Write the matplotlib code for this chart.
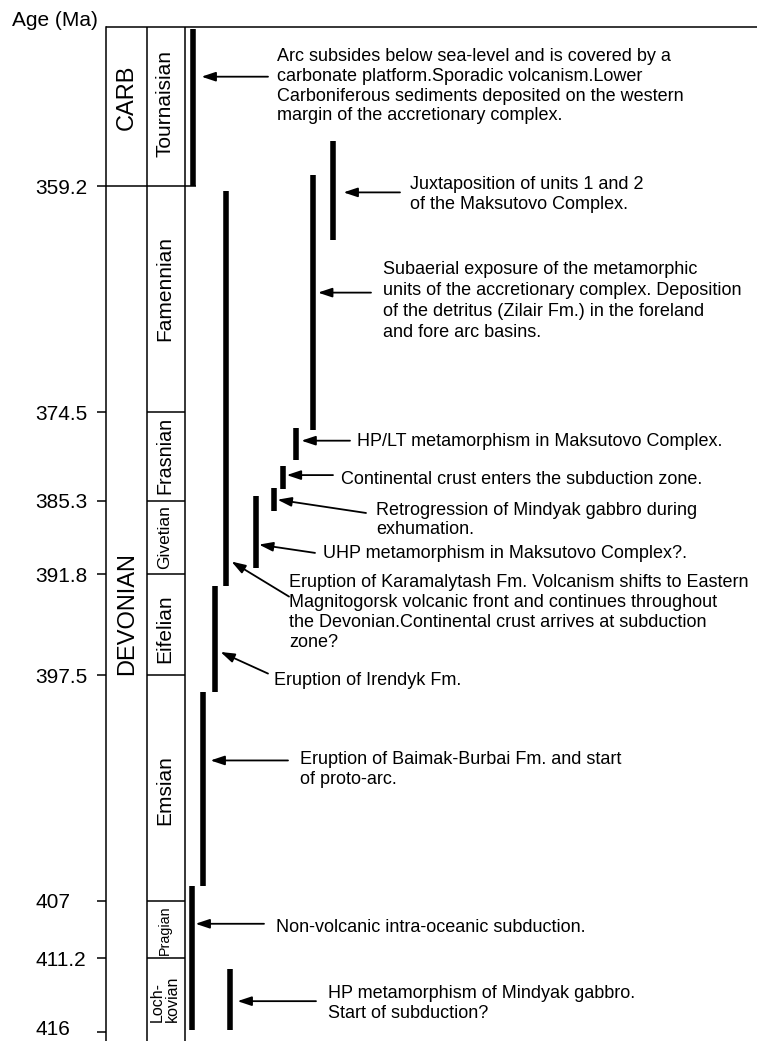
import numpy as np
import matplotlib
matplotlib.use("Agg")
import matplotlib.pyplot as plt
from matplotlib.ticker import NullLocator
from matplotlib.transforms import ScaledTranslation

plt.rcParams['font.family'] = ['Liberation Sans', 'DejaVu Sans']

# ---------------- data ----------------
boundary_ages = [345.3, 359.2, 374.5, 385.3, 391.8, 397.5, 407.0, 411.2, 416.0]
tick_ages = [359.2, 374.5, 385.3, 391.8, 397.5, 407.0, 411.2, 416.0]
tick_labels = ["359.2", "374.5", "385.3", "391.8", "397.5", "407", "411.2", "416"]

periods = ["CARB", "DEVONIAN"]
period_top = [345.3, 359.2]
period_base = [359.2, 416.0]

stages = ["Tournaisian", "Famennian", "Frasnian", "Givetian",
          "Eifelian", "Emsian", "Pragian", "Loch-\nkovian"]
stage_top = [345.3, 359.2, 374.5, 385.3, 391.8, 397.5, 407.0, 411.2]
stage_base = [359.2, 374.5, 385.3, 391.8, 397.5, 407.0, 411.2, 416.0]

event_text = [
    "Arc subsides below sea-level and is covered by a\n"
    "carbonate platform.Sporadic volcanism.Lower\n"
    "Carboniferous sediments deposited on the western\n"
    "margin of the accretionary complex.",
    "Juxtaposition of units 1 and 2\nof the Maksutovo Complex.",
    "Subaerial exposure of the metamorphic\n"
    "units of the accretionary complex. Deposition\n"
    "of the detritus (Zilair Fm.) in the foreland\n"
    "and fore arc basins.",
    "HP/LT metamorphism in Maksutovo Complex.",
    "Continental crust enters the subduction zone.",
    "Retrogression of Mindyak gabbro during\nexhumation.",
    "UHP metamorphism in Maksutovo Complex?.",
    "Eruption of Karamalytash Fm. Volcanism shifts to Eastern\n"
    "Magnitogorsk volcanic front and continues throughout\n"
    "the Devonian.Continental crust arrives at subduction\n"
    "zone?",
    "Eruption of Irendyk Fm.",
    "Eruption of Baimak-Burbai Fm. and start\nof proto-arc.",
    "Non-volcanic intra-oceanic subduction.",
    "HP metamorphism of Mindyak gabbro.\nStart of subduction?",
]
event_top = [345.4, 355.2, 358.2, 376.5, 381.1, 383.8, 384.8, 359.5, 392.5, 398.2, 406.4, 411.9]
event_base = [359.2, 362.8, 376.7, 380.4, 383.9, 386.2, 391.3, 392.5, 398.2, 406.4, 415.9, 415.9]
arrow_age = [349.6, 359.6, 366.4, 378.0, 382.2, 385.2, 389.2, 390.7, 396.2, 401.1, 408.7, 414.0]

# ---------------- layout (pixels) ----------------
W, H = 757, 1041
top_px = 27.5
stage_px = [159, 225.5, 88.5, 73.5, 101, 225.5, 57.5, 74]   # drawn height of each stage
col_x = [106, 147, 185]                                       # column rules
bar_x = [193, 333, 312.5, 296.3, 283.4, 274, 255.5, 226, 215.3, 203.2, 191.8, 230]
head_x = [201.5, 343.5, 318, 301.4, 286.7, 277.5, 259, 231.5, 220.5, 210.5, 195.5, 237.5]
tail_x = [268, 400, 371, 350, 333, 366, 315, 289, 268, 288, 264, 316]
tail_dy = [0, 0, 0, 0, 0, 13.3, 8.3, 35, 21.6, 0, 0, 0]
text_x = [277, 410, 383, 357, 341, 376, 323, 289, 274, 300, 276, 328]
text_y = [55, 182.7, 267.3, 439.3, 477.3, 508.3, 551.7, 581, 678.3, 757.7, 925, 991.7]
text_ls = [1.2, 1.2, 1.32, 1.2, 1.2, 1.2, 1.2, 1.22, 1.2, 1.2, 1.2, 1.2]
stage_dy = [-3.5, -11, -1, 0, 4.5, 2, 0.5, 4]
stage_fs = [15, 15, 14.2, 12.5, 15, 15, 10.3, 11.5]
period_dy = [-9.5, 0]

anchor_px = top_px + np.concatenate([[0.0], np.cumsum(stage_px)])
anchor_age = np.asarray(boundary_ages, float)


def _extrap(v, xs, ys):
    v = np.asarray(v, float)
    out = np.interp(v, xs, ys)
    lo = (ys[1] - ys[0]) / (xs[1] - xs[0])
    hi = (ys[-1] - ys[-2]) / (xs[-1] - xs[-2])
    out = np.where(v < xs[0], ys[0] + (v - xs[0]) * lo, out)
    out = np.where(v > xs[-1], ys[-1] + (v - xs[-1]) * hi, out)
    return out


def age_to_px(a):
    return _extrap(a, anchor_age, anchor_px)


def px_to_age(p):
    return _extrap(p, anchor_px, anchor_age)


fig = plt.figure(figsize=(W / 100, H / 100), dpi=100)
ax = fig.add_axes([0, 0, 1, 1])
ax.set_xlim(0, W)
ax.set_yscale('function', functions=(age_to_px, px_to_age))
age_bottom = float(px_to_age(H))
age_top = float(px_to_age(0))
ax.set_ylim(age_bottom, age_top)

lw_frame = 1.1
PX = 72 / 100  # points per pixel

# axis: left rule with ticks and left-aligned labels
for s in ['top', 'right', 'bottom']:
    ax.spines[s].set_visible(False)
ax.spines['left'].set_position(('data', col_x[0]))
ax.spines['left'].set_bounds(age_bottom, boundary_ages[0])
ax.spines['left'].set_linewidth(lw_frame)
ax.xaxis.set_visible(False)
ax.set_yticks(tick_ages, tick_labels)
ax.yaxis.set_minor_locator(NullLocator())
ax.tick_params(axis='y', direction='out', length=9 * PX, width=lw_frame,
               pad=(col_x[0] - 9 - 35) * PX, labelsize=15)
ylabels = ax.get_yticklabels()
for lbl in ylabels:
    lbl.set_horizontalalignment('left')
# lift the lowest label clear of the bottom edge
ylabels[-1].set_transform(ylabels[-1].get_transform()
                          + ScaledTranslation(0, 5 / 100, fig.dpi_scale_trans))

# frame of the stratigraphic columns
ax.hlines(boundary_ages[0], col_x[0], W, color='black', lw=lw_frame)
ax.vlines(col_x[1:], age_bottom, boundary_ages[0], color='black', lw=lw_frame)
ax.hlines(period_base[0], col_x[0], 196, color='black', lw=lw_frame)
ax.hlines(stage_base[1:-1], col_x[1], col_x[2], color='black', lw=lw_frame)

# period names
for name, t, b, dy in zip(periods, period_top, period_base, period_dy):
    bb = age_bottom if b == boundary_ages[-1] else b
    yc = px_to_age((age_to_px(t) + age_to_px(bb)) / 2 + dy)
    ax.text((col_x[0] + col_x[1]) / 2 + 0.5, yc, name, rotation=90,
            ha='center', va='center', fontsize=17)

# stage names
for name, t, b, dy, fs in zip(stages, stage_top, stage_base, stage_dy, stage_fs):
    yc = px_to_age((age_to_px(t) + age_to_px(b)) / 2 + dy)
    ax.text((col_x[1] + col_x[2]) / 2 - 1, yc, name, rotation=90,
            ha='center', va='center', fontsize=fs, multialignment='left',
            linespacing=1.0)

# event bars, arrows and descriptions
ax.vlines(bar_x, event_top, event_base, color='black', lw=4.0, capstyle='butt')
for i, txt in enumerate(event_text):
    head = (head_x[i], arrow_age[i])
    tail = (tail_x[i], float(px_to_age(age_to_px(arrow_age[i]) + tail_dy[i])))
    ax.annotate('', xy=head, xytext=tail,
                arrowprops=dict(arrowstyle='-|>,head_length=0.6,head_width=0.2',
                                color='black', lw=1.3, shrinkA=0, shrinkB=0,
                                mutation_scale=14))
    ax.text(text_x[i], float(px_to_age(text_y[i] - 6.5)), txt,
            ha='left', va='top', fontsize=13, linespacing=text_ls[i])

fig.text(12 / W, 1 - 20 / H, "Age (Ma)", ha='left', va='center', fontsize=15)

fig.savefig("out.png", dpi=100)
